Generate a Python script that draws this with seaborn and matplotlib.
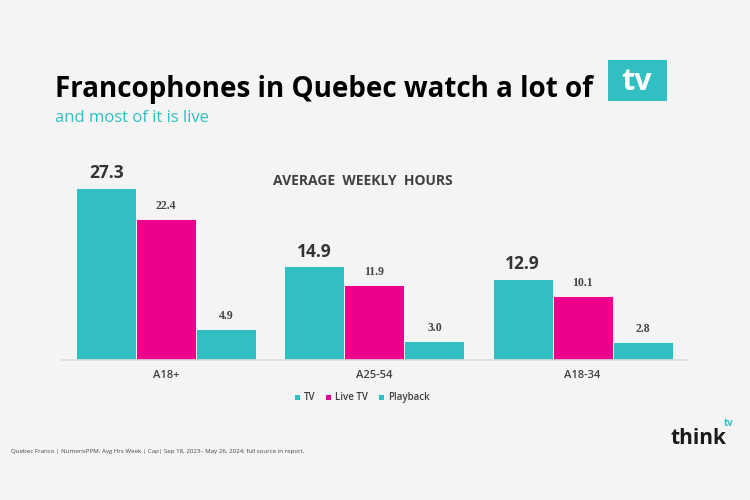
import matplotlib.pyplot as plt
import seaborn as sns
import pandas as pd
from matplotlib.patches import Rectangle

sns.set_theme(style="white")
plt.rcParams["font.family"] = ["Open Sans", "DejaVu Sans"]

groups = ["A18+", "A25-54", "A18-34"]
series = ["TV", "Live TV", "Playback"]
tv = [27.3, 14.9, 12.9]
live_tv = [22.4, 11.9, 10.1]
playback = [4.9, 3.0, 2.8]

TEAL = "#31bfc1"
PINK = "#ec008c"
BG = "#f4f4f4"

rows = []
for name, vals in zip(series, [tv, live_tv, playback]):
    for g, v in zip(groups, vals):
        rows.append({"group": g, "series": name, "hours": v})
df = pd.DataFrame(rows)

fig = plt.figure(figsize=(7.5, 5), dpi=100, facecolor=BG)
ax = fig.add_axes([0.0827, 0.28, 0.833, 0.378])
ax.set_facecolor(BG)

sns.barplot(data=df, x="group", y="hours", hue="series", order=groups,
            hue_order=series, palette=[TEAL, PINK, TEAL], width=0.865,
            saturation=1, edgecolor="white", linewidth=0.6, ax=ax)

for i, cont in enumerate(ax.containers):
    if i == 0:
        ax.bar_label(cont, fmt="%.1f", padding=4, fontsize=12.5,
                     fontweight="bold", color="#333333")
    else:
        ax.bar_label(cont, fmt="%.1f", padding=5, fontsize=8.5,
                     fontweight="bold", color="#444444",
                     family="Liberation Serif")

ax.set_xlim(-0.5, 2.5)
ax.set_ylim(0, 30)
ax.set_xlabel("")
ax.set_ylabel("")
ax.set_yticks([])
ax.tick_params(axis="x", length=0, pad=7, labelsize=8, labelcolor="#404040")
for lab in ax.get_xticklabels():
    lab.set_fontweight("semibold")
for s in ["top", "right", "left"]:
    ax.spines[s].set_visible(False)
ax.spines["bottom"].set_color("#dddddd")
ax.spines["bottom"].set_linewidth(1.2)

leg = ax.legend(loc="center", bbox_to_anchor=(0.48, -0.2), ncol=3,
                frameon=False, fontsize=7, handlelength=0.6,
                handleheight=0.6, handletextpad=0.4, columnspacing=1.0)
for t in leg.get_texts():
    t.set_color("#404040")
    t.set_fontweight("semibold")

fig.text(0.484, 0.638, "AVERAGE  WEEKLY  HOURS", ha="center", va="center",
         fontsize=10, fontweight="bold", color="#404040")

fig.text(0.073, 0.822, "Francophones in Quebec watch a lot of", ha="left",
         va="center", fontsize=20, fontweight="bold", color="black")
fig.patches.append(Rectangle((608 / 750, 1 - 101 / 500), 59 / 750, 41 / 500,
                             transform=fig.transFigure, facecolor=TEAL,
                             edgecolor="none"))
fig.text(637 / 750, 1 - 82 / 500, "tv", ha="center", va="center",
         fontsize=22, fontweight="bold", color="white")
fig.text(0.073, 0.764, "and most of it is live", ha="left", va="center",
         fontsize=12, color=TEAL)

fig.text(0.015, 0.096,
         "Quebec Franco | NumerisPPM, Avg Hrs Week | Cap| Sep 18, 2023\u2013 May 26, 2024; full source in report.",
         ha="left", va="center", fontsize=4.4, color="#444444")

fig.text(0.969, 0.122, "think", ha="right", va="center", fontsize=15,
         fontweight="bold", color="#1a1a1a")
fig.text(0.971, 0.152, "tv", ha="center", va="center", fontsize=7,
         fontweight="bold", color=TEAL)

fig.savefig("out.png", dpi=100, facecolor=BG)
